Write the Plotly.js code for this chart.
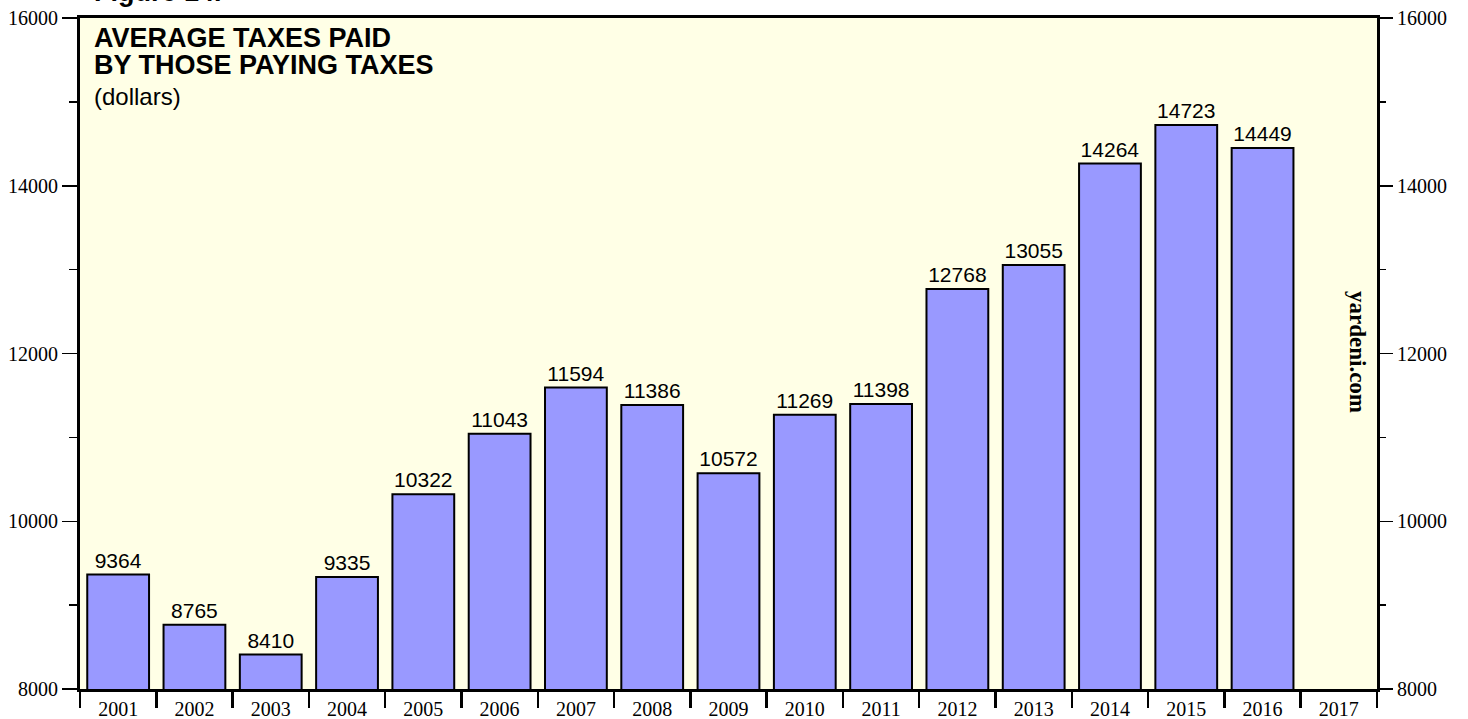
<!DOCTYPE html>
<html>
<head>
<meta charset="utf-8">
<script src="https://cdn.plot.ly/plotly-3.0.1.min.js"></script>
<style>html,body{margin:0;padding:0;background:#fff;}#chart{width:1468px;height:719px;}</style>
</head>
<body>
<div id="chart"></div>
<script>
const years = ["2001","2002","2003","2004","2005","2006","2007","2008","2009","2010","2011","2012","2013","2014","2015","2016","2017"];
const avgTaxes = [9364, 8765, 8410, 9335, 10322, 11043, 11594, 11386, 10572, 11269, 11398, 12768, 13055, 14264, 14723, 14449, null];
const yTicks = [8000, 10000, 12000, 14000, 16000];

const serif = "Liberation Serif, Times New Roman, serif";
const sans = "Liberation Sans, Arial, sans-serif";

const barTrace = {
  type: "bar",
  x: years,
  y: avgTaxes,
  text: avgTaxes.map(v => v == null ? "" : String(v)),
  textposition: "outside",
  cliponaxis: false,
  textfont: {family: sans, size: 21, color: "#000"},
  marker: {color: "#9999ff", line: {color: "#000", width: 2}},
  hoverinfo: "x+y",
  xaxis: "x", yaxis: "y"
};
const ghostRight = {type: "scatter", mode: "none", x: years, y: avgTaxes, xaxis: "x", yaxis: "y2", hoverinfo: "skip", showlegend: false};
const ghostTicks = {type: "scatter", mode: "none", x: years, y: avgTaxes, xaxis: "x2", yaxis: "y", hoverinfo: "skip", showlegend: false};

const yr = [8000, 16000];
const tickFont = {family: serif, size: 20, color: "#000"};
const layout = {
  width: 1468, height: 719,
  margin: {l: 80, r: 91, t: 18, b: 30, pad: 0},
  paper_bgcolor: "#ffffff",
  plot_bgcolor: "#ffffe6",
  showlegend: false,
  bargap: 0.19,
  xaxis: {
    type: "category", categoryorder: "array", categoryarray: years,
    range: [-0.5, years.length - 0.5],
    showline: true, mirror: true, linecolor: "#000", linewidth: 3,
    ticks: "", showgrid: false, zeroline: false,
    tickfont: tickFont
  },
  xaxis2: {
    type: "category", categoryorder: "array", categoryarray: years,
    overlaying: "x", side: "bottom",
    range: [-0.5, years.length - 0.5],
    ticks: "outside", tickson: "boundaries", ticklen: 18, tickwidth: 2.5, tickcolor: "#000",
    showticklabels: false, showgrid: false, showline: false, zeroline: false
  },
  yaxis: {
    range: yr, tickvals: yTicks, ticktext: yTicks.map(String),
    showline: true, mirror: true, linecolor: "#000", linewidth: 3,
    ticks: "outside", ticklen: 15, tickwidth: 1.5, tickcolor: "#000",
    minor: {dtick: 1000, tick0: 8000, ticks: "outside", ticklen: 8, tickwidth: 1.5, tickcolor: "#000", showgrid: false},
    showgrid: false, zeroline: false,
    tickfont: tickFont
  },
  yaxis2: {
    range: yr, tickvals: yTicks, ticktext: yTicks.map(String),
    overlaying: "y", side: "right",
    showline: false,
    ticks: "outside", ticklen: 15, tickwidth: 1.5, tickcolor: "#000",
    minor: {dtick: 1000, tick0: 8000, ticks: "outside", ticklen: 8, tickwidth: 1.5, tickcolor: "#000", showgrid: false},
    showgrid: false, zeroline: false,
    tickfont: tickFont
  },
  annotations: [
    {text: "<b>Figure 14.</b>", xref: "paper", yref: "paper", x: 0.009, y: 1.0134, xanchor: "left", yanchor: "bottom",
     showarrow: false, font: {family: sans, size: 27, color: "#000"}},
    {text: "<b>AVERAGE TAXES PAID</b>", xref: "paper", yref: "paper", x: 0.009, y: (689 - 38) / 671, xanchor: "left", yanchor: "middle",
     showarrow: false, font: {family: sans, size: 27, color: "#000"}},
    {text: "<b>BY THOSE PAYING TAXES</b>", xref: "paper", yref: "paper", x: 0.009, y: (689 - 65) / 671, xanchor: "left", yanchor: "middle",
     showarrow: false, font: {family: sans, size: 27, color: "#000"}},
    {text: "(dollars)", xref: "paper", yref: "paper", x: 0.009, y: (689 - 97) / 671, xanchor: "left", yanchor: "middle",
     showarrow: false, font: {family: sans, size: 24, color: "#000"}},
    {text: "<b>yardeni.com</b>", xref: "paper", yref: "paper", x: (1358 - 80) / 1297, y: (689 - 352) / 671, xanchor: "center", yanchor: "middle",
     textangle: 90, showarrow: false, font: {family: serif, size: 23, color: "#000"}}
  ]
};

Plotly.newPlot("chart", [barTrace, ghostRight, ghostTicks], layout, {displayModeBar: false, staticPlot: true});
</script>
</body>
</html>
